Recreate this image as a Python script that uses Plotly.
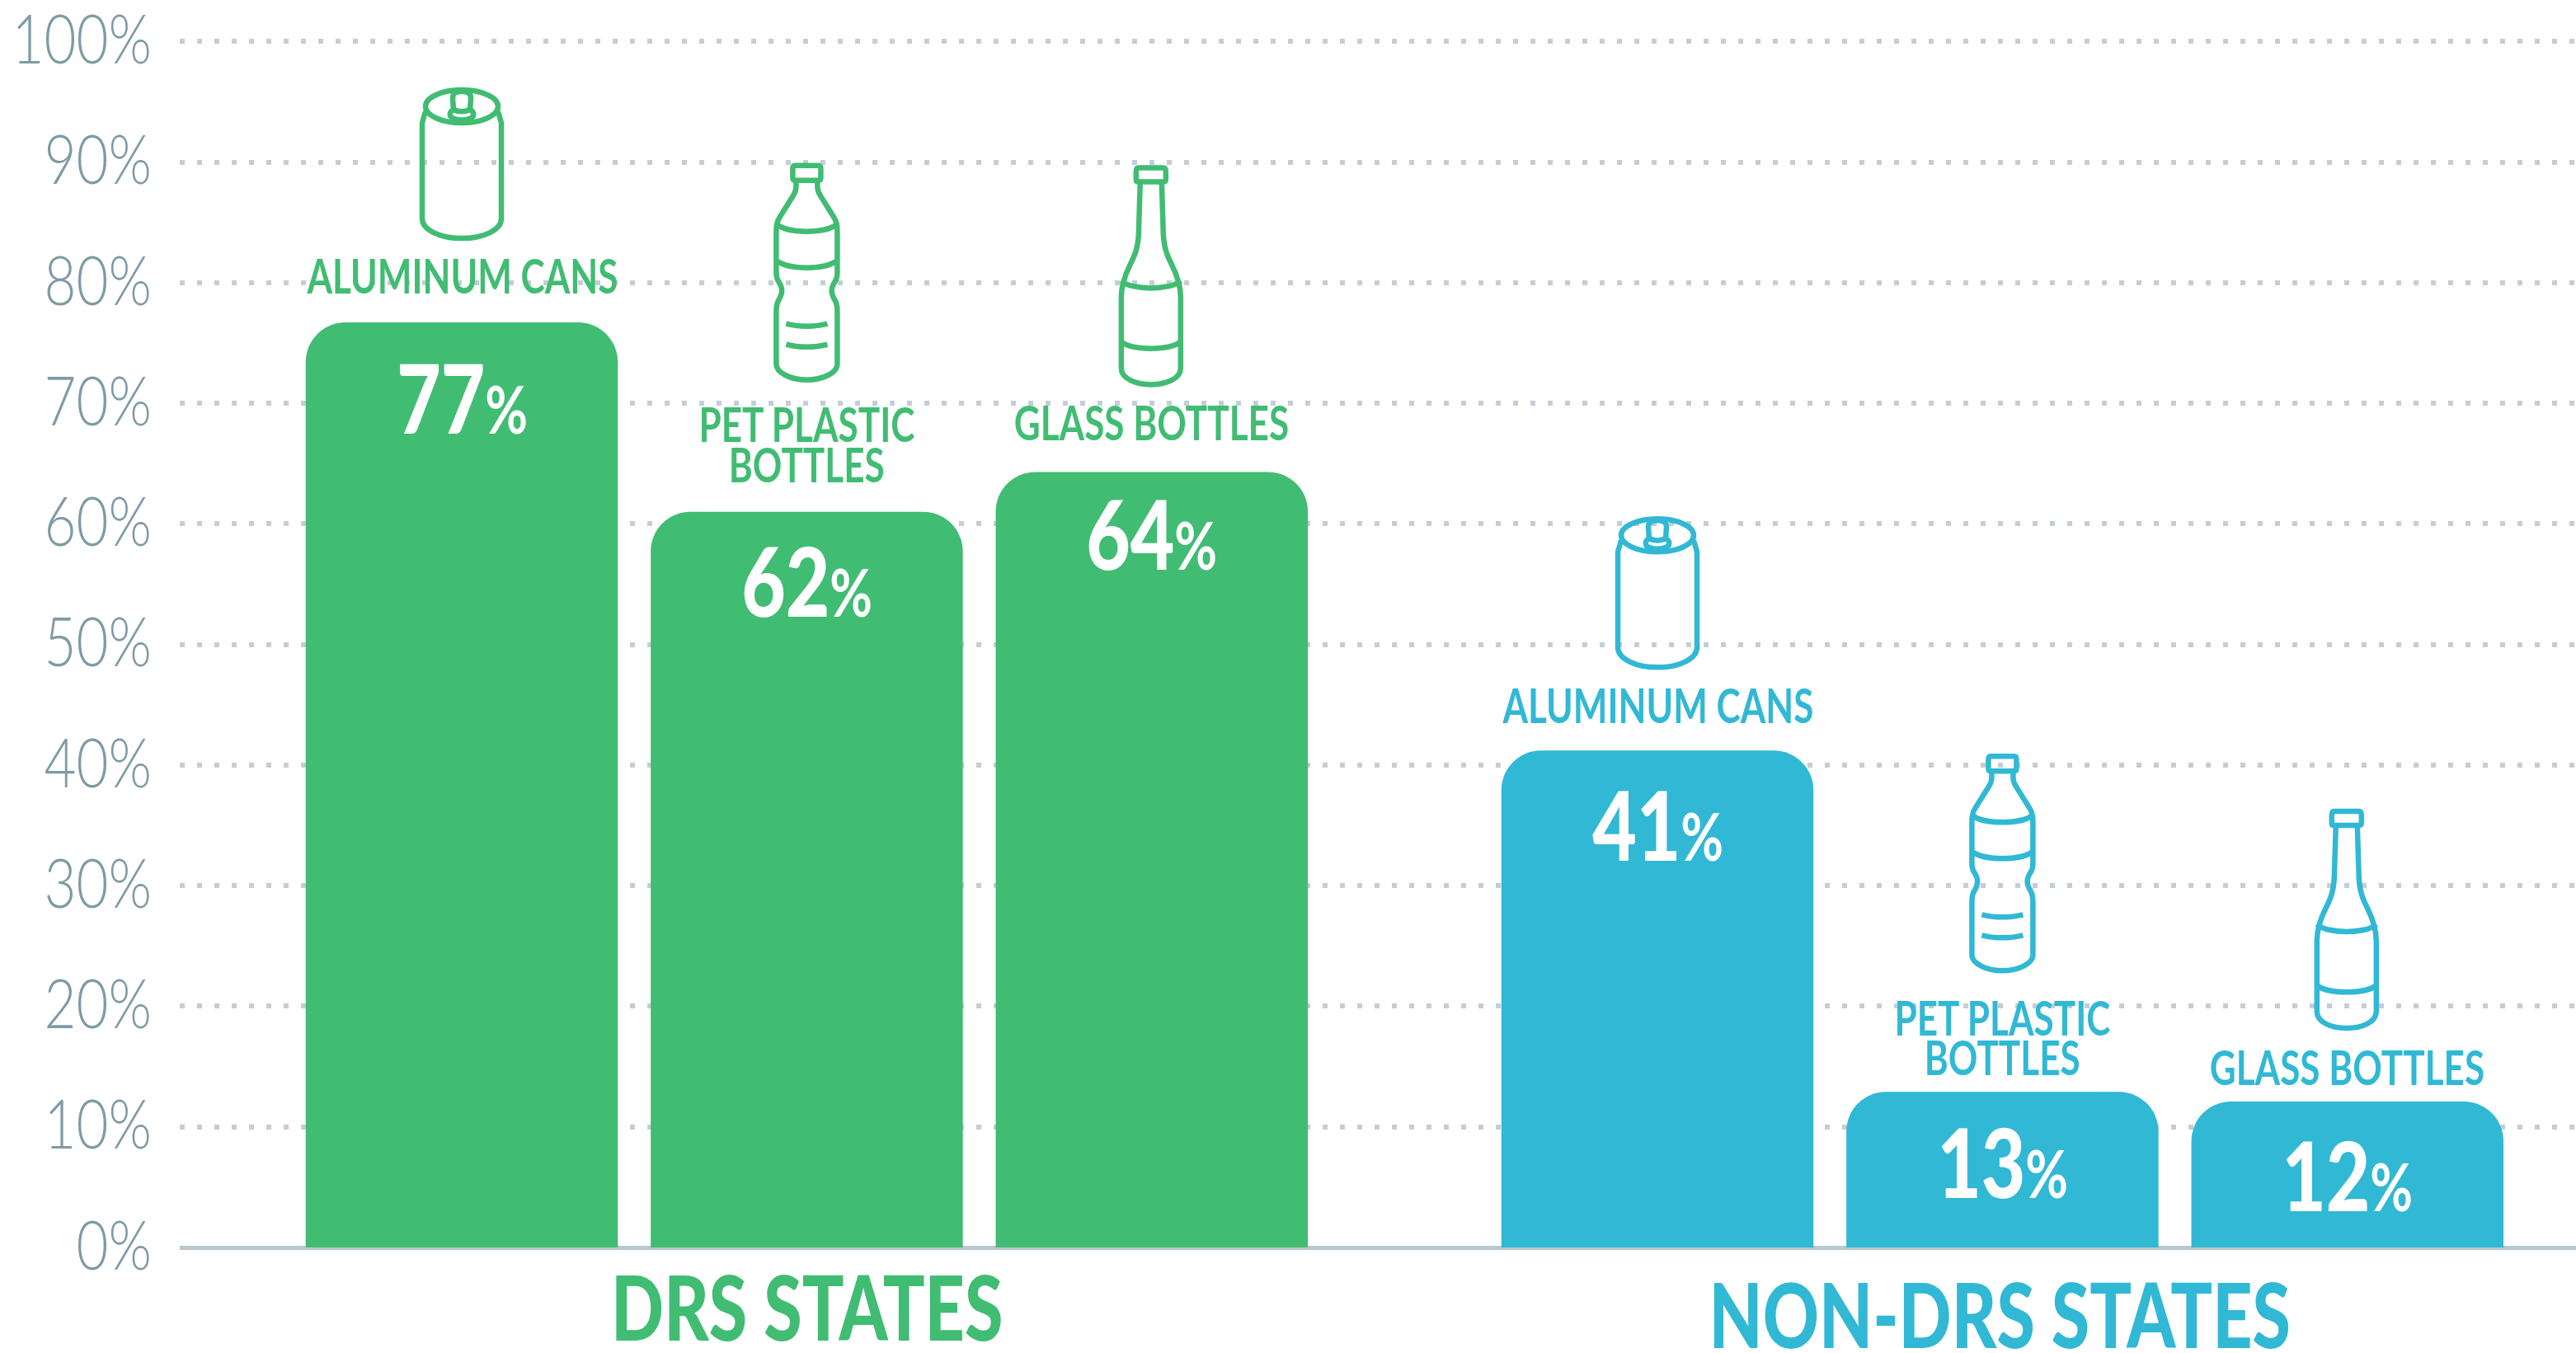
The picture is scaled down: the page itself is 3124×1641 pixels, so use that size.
import re
import plotly.graph_objects as go

# ---------- data ----------
groups = ["DRS STATES", "NON-DRS STATES"]
materials = ["ALUMINUM CANS", "PET PLASTIC BOTTLES", "GLASS BOTTLES"]
drs_heights = [76.7, 61.0, 64.3]
non_drs_heights = [41.2, 12.9, 12.1]
drs_labels = [77, 62, 64]
non_drs_labels = [41, 13, 12]
y_ticks = [0, 10, 20, 30, 40, 50, 60, 70, 80, 90, 100]
y_tick_text = [f"{v}%" for v in y_ticks]

# ---------- styles ----------
GREEN = "#41bc73"
BLUE = "#31b8d5"
TICK = "#7e9ba6"
GRID = "#c3ced6"
ZERO = "#b9c7d0"
FONT = "Lato, sans-serif"

W, H = 3124, 1641
LEFT = 218
Y100, BOTTOM = 50.5, 1513
PX_PER_Y = (BOTTOM - Y100) / 100
Y_MAX = 100.5
TOP = BOTTOM - Y_MAX * PX_PER_Y
SLOT = 418.4
GROUP_SHIFT = 194.8
FIRST = 560
BAR_PX = 378.5


def px_x(px):
    return (px - FIRST) / SLOT


centers_px = [FIRST + SLOT * i for i in range(3)] + [FIRST + SLOT * i + GROUP_SHIFT for i in range(3, 6)]
x_vals = [px_x(c) for c in centers_px]
heights = drs_heights + non_drs_heights
labels = drs_labels + non_drs_labels
colors = [GREEN] * 3 + [BLUE] * 3

K = 0.5523


def ellipse(cx, cy, rx, ry):
    return (f"M {cx-rx} {cy} C {cx-rx} {cy-K*ry} {cx-K*rx} {cy-ry} {cx} {cy-ry} "
            f"C {cx+K*rx} {cy-ry} {cx+rx} {cy-K*ry} {cx+rx} {cy} "
            f"C {cx+rx} {cy+K*ry} {cx+K*rx} {cy+ry} {cx} {cy+ry} "
            f"C {cx-K*rx} {cy+ry} {cx-rx} {cy+K*ry} {cx-rx} {cy} Z")


# icon outlines: pixel offsets from the icon's top centre
CAN = [
    ellipse(0, 24, 44, 20),
    "M -44 30 L -48 44 L -48 160 C -48 174 -26 184 0 184 C 26 184 48 174 48 160 L 48 44 L 44 30",
    "M -10 29 L -11 14 C -11 7 -6 6 0 6 C 6 6 11 7 11 14 L 10 29",
    "M -9 28 C -16 29 -16 38 -9 39 C -4 41 4 41 9 39 C 16 38 16 29 9 28 C 4 31 -4 31 -9 28 Z",
]
PET = [
    "M -14 3 L 14 3 C 17 3 17 5 17 7 L 17 18 C 17 21 16 21 14 21 L -14 21 C -17 21 -17 20 -17 18 L -17 7 C -17 5 -17 3 -14 3 Z",
    "M -13 21 L -13 29 C -13 35 -15 37 -18 42 L -33 66 C -37 72 -37 78 -37 84 L -37 128 C -37 136 -37 140 -34 144 "
    "C -29 152 -29 158 -34 166 C -37 171 -37 175 -37 180 L -37 244 C -37 254 -20 263 0 263 "
    "C 20 263 37 254 37 244 L 37 180 C 37 175 37 171 34 166 C 29 158 29 152 34 144 C 37 140 37 136 37 128 "
    "L 37 84 C 37 78 37 72 33 66 L 18 42 C 15 37 13 35 13 29 L 13 21",
    "M -37 74 C -24 86 24 86 37 74",
    "M -37 118 C -24 130 24 130 37 118",
    "M -25 195 C -10 199 10 199 25 195",
    "M -25 220 C -10 224 10 224 25 220",
]
GLASS = [
    "M -15 3 L 15 3 C 18 3 18 5 18 8 L 18 17 C 18 20 17 20 15 20 L -15 20 C -18 20 -18 20 -18 17 L -18 8 C -18 5 -18 3 -15 3 Z",
    "M -13 20 L -15 84 C -16 100 -19 108 -25 120 C -31 132 -36 146 -36 160 L -36 246 "
    "C -36 258 -20 266 0 266 C 20 266 36 258 36 246 L 36 160 C 36 146 31 132 25 120 "
    "C 19 108 16 100 15 84 L 13 20",
    "M -36 140 C -24 152 24 152 36 140",
    "M -36 214 C -24 225 24 225 36 214",
]
ICONS = [CAN, PET, GLASS, CAN, PET, GLASS]
# pixels from bar top up to icon top
ICON_LIFT = [286, 423, 372, 285, 410, 355]
ICON_DX = [0, 0, -1, 0, 0, -1]
# pixels from bar top up to each text line's centre
TEXT_LIFT = [[58], [107, 58], [61], [56], [91, 43], [43]]
TEXT_LINES = [["ALUMINUM CANS"], ["PET PLASTIC", "BOTTLES"], ["GLASS BOTTLES"]] * 2
VALUE_DROP = [90, 82, 74, 89, 84, 88]


def to_data(path, ox, oy):
    """pixel-offset path -> data coordinates, anchored at pixel ox and pixel oy."""
    out, is_x = [], True
    for tok in path.split():
        if re.match(r"^[A-Z]$", tok):
            out.append(tok)
            continue
        v = float(tok)
        if is_x:
            out.append(f"{px_x(ox + v):.5f}")
        else:
            out.append(f"{(BOTTOM - (oy + v)) / PX_PER_Y:.4f}")
        is_x = not is_x
    return " ".join(out)


shapes = []
annotations = []
for i in range(6):
    top_px = BOTTOM - heights[i] * PX_PER_Y
    col = colors[i]
    for p in ICONS[i]:
        shapes.append(dict(type="path", xref="x", yref="y", layer="above",
                           path=to_data(p, centers_px[i] + ICON_DX[i], top_px - ICON_LIFT[i]),
                           line=dict(color=col, width=6.5), fillcolor="rgba(0,0,0,0)"))
    for line, lift in zip(TEXT_LINES[i], TEXT_LIFT[i]):
        annotations.append(dict(x=x_vals[i], y=heights[i], xref="x", yref="y", text=line,
                                showarrow=False, xanchor="center", yanchor="middle", yshift=lift,
                                font=dict(family=FONT, size=58, color=col, weight=700)))
    annotations.append(dict(x=x_vals[i], y=heights[i], xref="x", yref="y",
                            text=f"{labels[i]}<span style='font-size:80px;font-weight:700'>%</span>",
                            showarrow=False, xanchor="center", yanchor="middle", yshift=-VALUE_DROP[i],
                            font=dict(family=FONT, size=117, color="white", weight=900)))

for name, px, ypx, col in [(groups[0], 978, 1584, GREEN), (groups[1], 2425, 1593, BLUE)]:
    annotations.append(dict(x=px_x(px), y=0, xref="x", yref="y", text=name, yshift=-(ypx - BOTTOM),
                            showarrow=False, xanchor="center", yanchor="middle",
                            font=dict(family=FONT, size=108, color=col, weight=900)))

fig = go.Figure(go.Bar(x=x_vals, y=heights, width=BAR_PX / SLOT,
                       marker=dict(color=colors, line=dict(width=0)), hoverinfo="skip"))

fig.update_layout(
    width=W, height=H, autosize=False, showlegend=False,
    paper_bgcolor="white", plot_bgcolor="white",
    margin=dict(l=LEFT, r=0, t=TOP, b=H - BOTTOM, pad=0, autoexpand=False),
    barcornerradius=48,
    shapes=shapes, annotations=annotations,
    xaxis=dict(range=[px_x(LEFT), px_x(W)], visible=False, fixedrange=True, automargin=False),
    yaxis=dict(range=[0, Y_MAX], tickvals=y_ticks, ticktext=y_tick_text, ticks="", showline=False,
               ticklabelstandoff=33, ticklabeloverflow="allow", automargin=False,
               tickfont=dict(family=FONT, size=82, color=TICK, weight=300),
               showgrid=True, gridcolor=GRID, gridwidth=6, griddash="6px,15px",
               zeroline=True, zerolinecolor=ZERO, zerolinewidth=5, fixedrange=True),
)

# The reference type is a condensed face; squeeze the real text horizontally to match it.
CONDENSE = """
document.body.style.margin='0';document.body.style.overflow='hidden';
document.querySelectorAll('.ytick text').forEach(t=>{
  const x=parseFloat(t.getAttribute('x'))||0, tr=t.getAttribute('transform')||'';
  t.setAttribute('transform',tr+' translate('+x+',-2) scale(0.82,1) translate('+(-x)+',0)');
});
document.querySelectorAll('.annotation-text').forEach(t=>{
  const f=parseFloat(t.style.fontSize);
  const s=f<70?0.76:(f<112?0.78:0.79);
  t.style.transformBox='fill-box';t.style.transformOrigin='center center';t.style.transform='scaleX('+s+')';
});
"""
fig.write_html("out.html", config={"displayModeBar": False}, post_script=CONDENSE)
